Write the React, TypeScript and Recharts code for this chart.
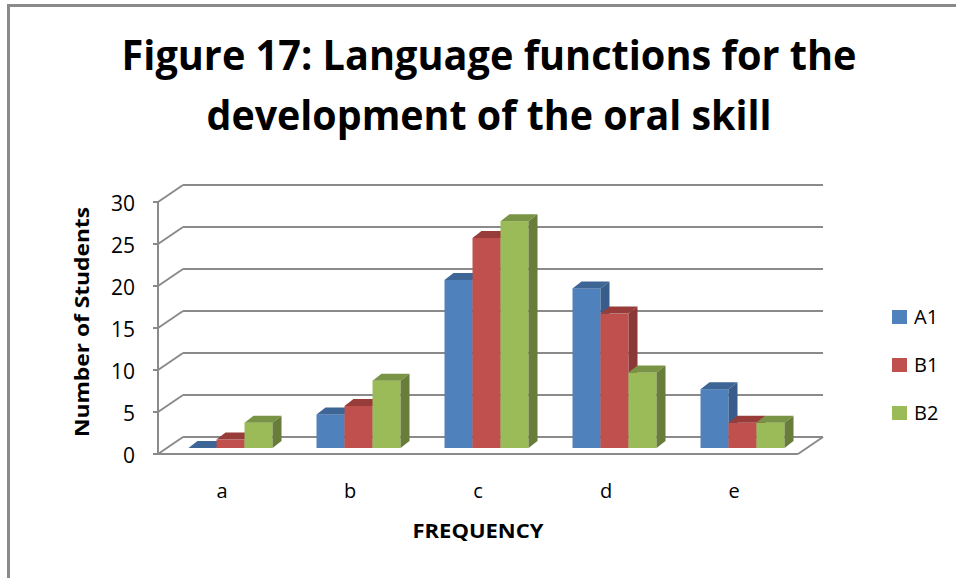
import { BarChart, Bar, XAxis, YAxis, CartesianGrid } from 'recharts';

const categories = ['a', 'b', 'c', 'd', 'e'];
const a1Values = [0, 4, 20, 19, 7];
const b1Values = [1, 5, 25, 16, 3];
const b2Values = [3, 8, 27, 9, 3];
const yTicks = [0, 5, 10, 15, 20, 25, 30];
const seriesNames = ['A1', 'B1', 'B2'];

const data = categories.map((name, i) => ({
  name,
  A1: a1Values[i],
  B1: b1Values[i],
  B2: b2Values[i],
}));

// front face / top / side colours per series
const SERIES = [
  { key: 'A1', front: '#4f81bd', top: '#3d6595', side: '#385d8a' },
  { key: 'B1', front: '#c0504d', top: '#983c39', side: '#8c3836' },
  { key: 'B2', front: '#9bbb59', top: '#7a9445', side: '#687d3a' },
];

// plot box = back wall of the 3d chart
const LEFT = 183;
const RIGHT = 823;
const TOP = 185;
const BOTTOM = 437;
const BAND = (RIGHT - LEFT) / categories.length;
const STEP = (BOTTOM - TOP) / (yTicks.length - 1);
// offset of the front plane from the back wall
const FX = -25;
const FY = 17;
// offset of the bars' front face from the back wall
const BX = -16.5;
const BY = 11;
// bar depth
const DX = 9;
const DY = 7;

const GRID = '#8a8a8a';
const FONT = '"Open Sans", "Noto Sans", sans-serif';

const makeShape = (s: { front: string; top: string; side: string }) => (props: any) => {
  const { x, y, width, height } = props;
  if (x == null || y == null) return null;
  const fx = x + BX;
  const fy = y + BY;
  const w = width;
  const h = Math.max(0, height);
  return (
    <g>
      <rect x={fx} y={fy} width={w} height={h} fill={s.front} />
      <polygon
        points={`${fx},${fy} ${fx + w},${fy} ${fx + w + DX},${fy - DY} ${fx + DX},${fy - DY}`}
        fill={s.top}
      />
      <polygon
        points={`${fx + w},${fy} ${fx + w + DX},${fy - DY} ${fx + w + DX},${fy + h - DY} ${fx + w},${fy + h}`}
        fill={s.side}
      />
    </g>
  );
};

const YTick = (props: any) => {
  const { y, payload } = props;
  const fx = LEFT + FX;
  const fy = y + FY;
  return (
    <g>
      <line x1={fx} y1={fy} x2={LEFT} y2={y} stroke={GRID} strokeWidth={2} />
      <line x1={fx - 5} y1={fy} x2={fx} y2={fy} stroke={GRID} strokeWidth={2} />
      {payload.value > 0 && (
        <line x1={fx} y1={fy} x2={fx} y2={fy + STEP} stroke={GRID} strokeWidth={2} />
      )}
      <text
        x={135}
        y={fy}
        dy={9}
        textAnchor="end"
        fontFamily={FONT}
        fontSize={21}
        fill="#000"
      >
        {payload.value}
      </text>
    </g>
  );
};

const XTick = (props: any) => {
  const { x, payload, index } = props;
  const fx = x + FX;
  const fy = BOTTOM + FY;
  return (
    <g>
      <line x1={fx - BAND / 2} y1={fy} x2={fx + BAND / 2} y2={fy} stroke={GRID} strokeWidth={2} />
      {index === categories.length - 1 && (
        <line x1={fx + BAND / 2} y1={fy} x2={RIGHT} y2={BOTTOM} stroke={GRID} strokeWidth={2} />
      )}
      <text x={fx} y={498} textAnchor="middle" fontFamily={FONT} fontSize={20} fill="#000">
        {payload.value}
      </text>
    </g>
  );
};

export default function App() {
  return (
    <div
      style={{
        position: 'absolute',
        left: 0,
        top: 0,
        width: 956,
        height: 578,
        background: '#fff',
        overflow: 'hidden',
        fontFamily: FONT,
      }}
    >
      <div
        style={{
          position: 'absolute',
          left: 7,
          top: 4,
          width: 1000,
          height: 700,
          borderLeft: '3px solid #8a8a8a',
          borderTop: '3px solid #8a8a8a',
        }}
      />
      <div style={{ position: 'absolute', left: 0, top: 0 }}>
        <BarChart
          width={956}
          height={578}
          data={data}
          margin={{ top: TOP, right: 956 - RIGHT, bottom: 578 - BOTTOM - 30, left: LEFT - 30 }}
          barCategoryGap={22}
          barGap={0}
        >
          <CartesianGrid horizontal vertical={false} stroke={GRID} strokeWidth={2} />
          <XAxis
            dataKey="name"
            height={30}
            axisLine={false}
            tickLine={false}
            interval={0}
            tick={<XTick />}
          />
          <YAxis
            width={30}
            domain={[0, 30]}
            ticks={yTicks}
            interval={0}
            axisLine={false}
            tickLine={false}
            tick={<YTick />}
          />
          {SERIES.map((s) => (
            <Bar
              key={s.key}
              dataKey={s.key}
              fill={s.front}
              isAnimationActive={false}
              shape={makeShape(s)}
            />
          ))}
        </BarChart>
      </div>
      <svg
        width={956}
        height={578}
        style={{ position: 'absolute', left: 0, top: 0, pointerEvents: 'none' }}
      >
        <text
          x={489}
          y={70}
          textAnchor="middle"
          fontFamily={FONT}
          fontWeight="bold"
          fontSize={42}
          textLength={735}
          lengthAdjust="spacingAndGlyphs"
        >
          Figure 17: Language functions for the
        </text>
        <text
          x={489}
          y={130}
          textAnchor="middle"
          fontFamily={FONT}
          fontWeight="bold"
          fontSize={42}
          textLength={565}
          lengthAdjust="spacingAndGlyphs"
        >
          development of the oral skill
        </text>
        <text
          transform="translate(89,322) rotate(-90)"
          textAnchor="middle"
          fontFamily={FONT}
          fontWeight="bold"
          fontSize={20}
          textLength={230}
          lengthAdjust="spacingAndGlyphs"
        >
          Number of Students
        </text>
        <text
          x={478}
          y={538}
          textAnchor="middle"
          fontFamily={FONT}
          fontWeight="bold"
          fontSize={20}
          textLength={131}
          lengthAdjust="spacingAndGlyphs"
        >
          FREQUENCY
        </text>
        {seriesNames.map((name, i) => (
          <g key={name}>
            <rect x={892} y={310 + i * 48} width={15} height={14} fill={SERIES[i].front} />
            <text x={914} y={324 + i * 48} fontFamily={FONT} fontSize={20} fill="#000">
              {name}
            </text>
          </g>
        ))}
      </svg>
    </div>
  );
}
